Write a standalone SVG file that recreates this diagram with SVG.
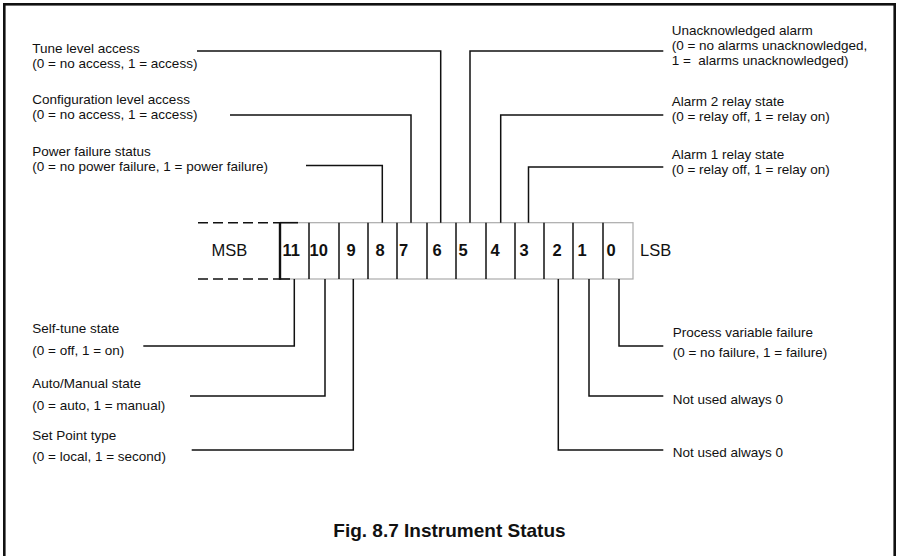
<svg xmlns="http://www.w3.org/2000/svg" width="899" height="556" viewBox="0 0 899 556">
<style>
.lbl{font-family:"Liberation Sans",Arial,sans-serif;font-size:13.5px;fill:#111}
.big{font-family:"Liberation Sans",Arial,sans-serif;font-size:16.5px;fill:#111}
.bit{font-family:"Liberation Sans",Arial,sans-serif;font-size:16.5px;font-weight:bold;fill:#111}
.title{font-family:"Liberation Sans",Arial,sans-serif;font-size:19px;font-weight:bold;fill:#111}
.con{fill:none;stroke:#111;stroke-width:1.5}
.div{stroke:#111;stroke-width:1.5}
</style>
<rect x="0" y="0" width="899" height="556" fill="#fff"/>
<rect x="4.3" y="4.3" width="890.4" height="600" fill="none" stroke="#111" stroke-width="2.6"/>

<g id="register">
  <rect x="280" y="222.7" width="353" height="56.3" fill="none" stroke="#aaa" stroke-width="1.2"/>
  <line x1="198" y1="222.7" x2="280" y2="222.7" stroke="#111" stroke-width="1.6" stroke-dasharray="10,5"/>
  <line x1="198" y1="279" x2="280" y2="279" stroke="#111" stroke-width="1.6" stroke-dasharray="10,5"/>
  <line x1="280" y1="222.7" x2="298" y2="222.7" stroke="#111" stroke-width="1.6"/>
  <line x1="280" y1="279" x2="290" y2="279" stroke="#111" stroke-width="1.6"/>
  <line x1="280" y1="222" x2="280" y2="279.7" stroke="#111" stroke-width="2.4"/>
  <line class="div" x1="309" y1="222.7" x2="309" y2="279"/>
  <line class="div" x1="339" y1="222.7" x2="339" y2="279"/>
  <line class="div" x1="368" y1="222.7" x2="368" y2="279"/>
  <line class="div" x1="397" y1="222.7" x2="397" y2="279"/>
  <line class="div" x1="427" y1="222.7" x2="427" y2="279"/>
  <line class="div" x1="456" y1="222.7" x2="456" y2="279"/>
  <line class="div" x1="486" y1="222.7" x2="486" y2="279"/>
  <line class="div" x1="515" y1="222.7" x2="515" y2="279"/>
  <line class="div" x1="544" y1="222.7" x2="544" y2="279"/>
  <line class="div" x1="573" y1="222.7" x2="573" y2="279"/>
  <line class="div" x1="603" y1="222.7" x2="603" y2="279"/>
  <text class="big" x="211.5" y="256">MSB</text>
  <text class="big" x="640" y="256">LSB</text>
  <text class="bit" x="282.5" y="256">11</text>
  <text class="bit" x="309.5" y="256">10</text>
  <text class="bit" x="346.5" y="256">9</text>
  <text class="bit" x="375.5" y="256">8</text>
  <text class="bit" x="399" y="256">7</text>
  <text class="bit" x="432.5" y="256">6</text>
  <text class="bit" x="458.5" y="256">5</text>
  <text class="bit" x="490.5" y="256">4</text>
  <text class="bit" x="519.5" y="256">3</text>
  <text class="bit" x="552.5" y="256">2</text>
  <text class="bit" x="577.5" y="256">1</text>
  <text class="bit" x="606.5" y="256">0</text>
</g>

<g id="connectors">
  <polyline class="con" points="197,51 440.7,51 440.7,222.7"/>
  <polyline class="con" points="230,115 411,115 411,222.7"/>
  <polyline class="con" points="306,165.5 382.3,165.5 382.3,222.7"/>
  <polyline class="con" points="663.3,51 470,51 470,222.7"/>
  <polyline class="con" points="663.3,115 500.7,115 500.7,222.7"/>
  <polyline class="con" points="663.3,167 528.5,167 528.5,222.7"/>
  <polyline class="con" points="143.3,346 294.3,346 294.3,279"/>
  <polyline class="con" points="190,396 325,396 325,279"/>
  <polyline class="con" points="191.7,450 353.3,450 353.3,279"/>
  <polyline class="con" points="663.3,346 619,346 619,279"/>
  <polyline class="con" points="663.3,396 589,396 589,279"/>
  <polyline class="con" points="663.3,450 558.3,450 558.3,279"/>
</g>

<g id="bit6">
  <text class="lbl" x="32.3" y="53.3">Tune level access</text>
  <text class="lbl" x="32.3" y="68.3">(0 = no access, 1 = access)</text>
</g>
<g id="bit7">
  <text class="lbl" x="32.3" y="104">Configuration level access</text>
  <text class="lbl" x="32.3" y="119">(0 = no access, 1 = access)</text>
</g>
<g id="bit8">
  <text class="lbl" x="32.3" y="156">Power failure status</text>
  <text class="lbl" x="32.3" y="171">(0 = no power failure, 1 = power failure)</text>
</g>
<g id="bit5">
  <text class="lbl" x="671.7" y="35">Unacknowledged alarm</text>
  <text class="lbl" x="671.7" y="50">(0 = no alarms unacknowledged,</text>
  <text class="lbl" x="671.7" y="65" xml:space="preserve">1 =  alarms unacknowledged)</text>
</g>
<g id="bit4">
  <text class="lbl" x="671.7" y="106">Alarm 2 relay state</text>
  <text class="lbl" x="671.7" y="121">(0 = relay off, 1 = relay on)</text>
</g>
<g id="bit3">
  <text class="lbl" x="671.7" y="159.3">Alarm 1 relay state</text>
  <text class="lbl" x="671.7" y="174">(0 = relay off, 1 = relay on)</text>
</g>
<g id="bit11">
  <text class="lbl" x="32.3" y="333.3">Self-tune state</text>
  <text class="lbl" x="32.3" y="354.5">(0 = off, 1 = on)</text>
</g>
<g id="bit10">
  <text class="lbl" x="32.3" y="388.3">Auto/Manual state</text>
  <text class="lbl" x="32.3" y="409.5">(0 = auto, 1 = manual)</text>
</g>
<g id="bit9">
  <text class="lbl" x="32.3" y="440.3">Set Point type</text>
  <text class="lbl" x="32.3" y="461">(0 = local, 1 = second)</text>
</g>
<g id="bit0">
  <text class="lbl" x="672.7" y="336.5">Process variable failure</text>
  <text class="lbl" x="672.7" y="356.5">(0 = no failure, 1 = failure)</text>
</g>
<g id="bit1">
  <text class="lbl" x="672.7" y="404.3">Not used always 0</text>
</g>
<g id="bit2">
  <text class="lbl" x="672.7" y="456.7">Not used always 0</text>
</g>
<g id="caption">
  <text class="title" x="333.3" y="537.3">Fig. 8.7 Instrument Status</text>
</g>
</svg>
